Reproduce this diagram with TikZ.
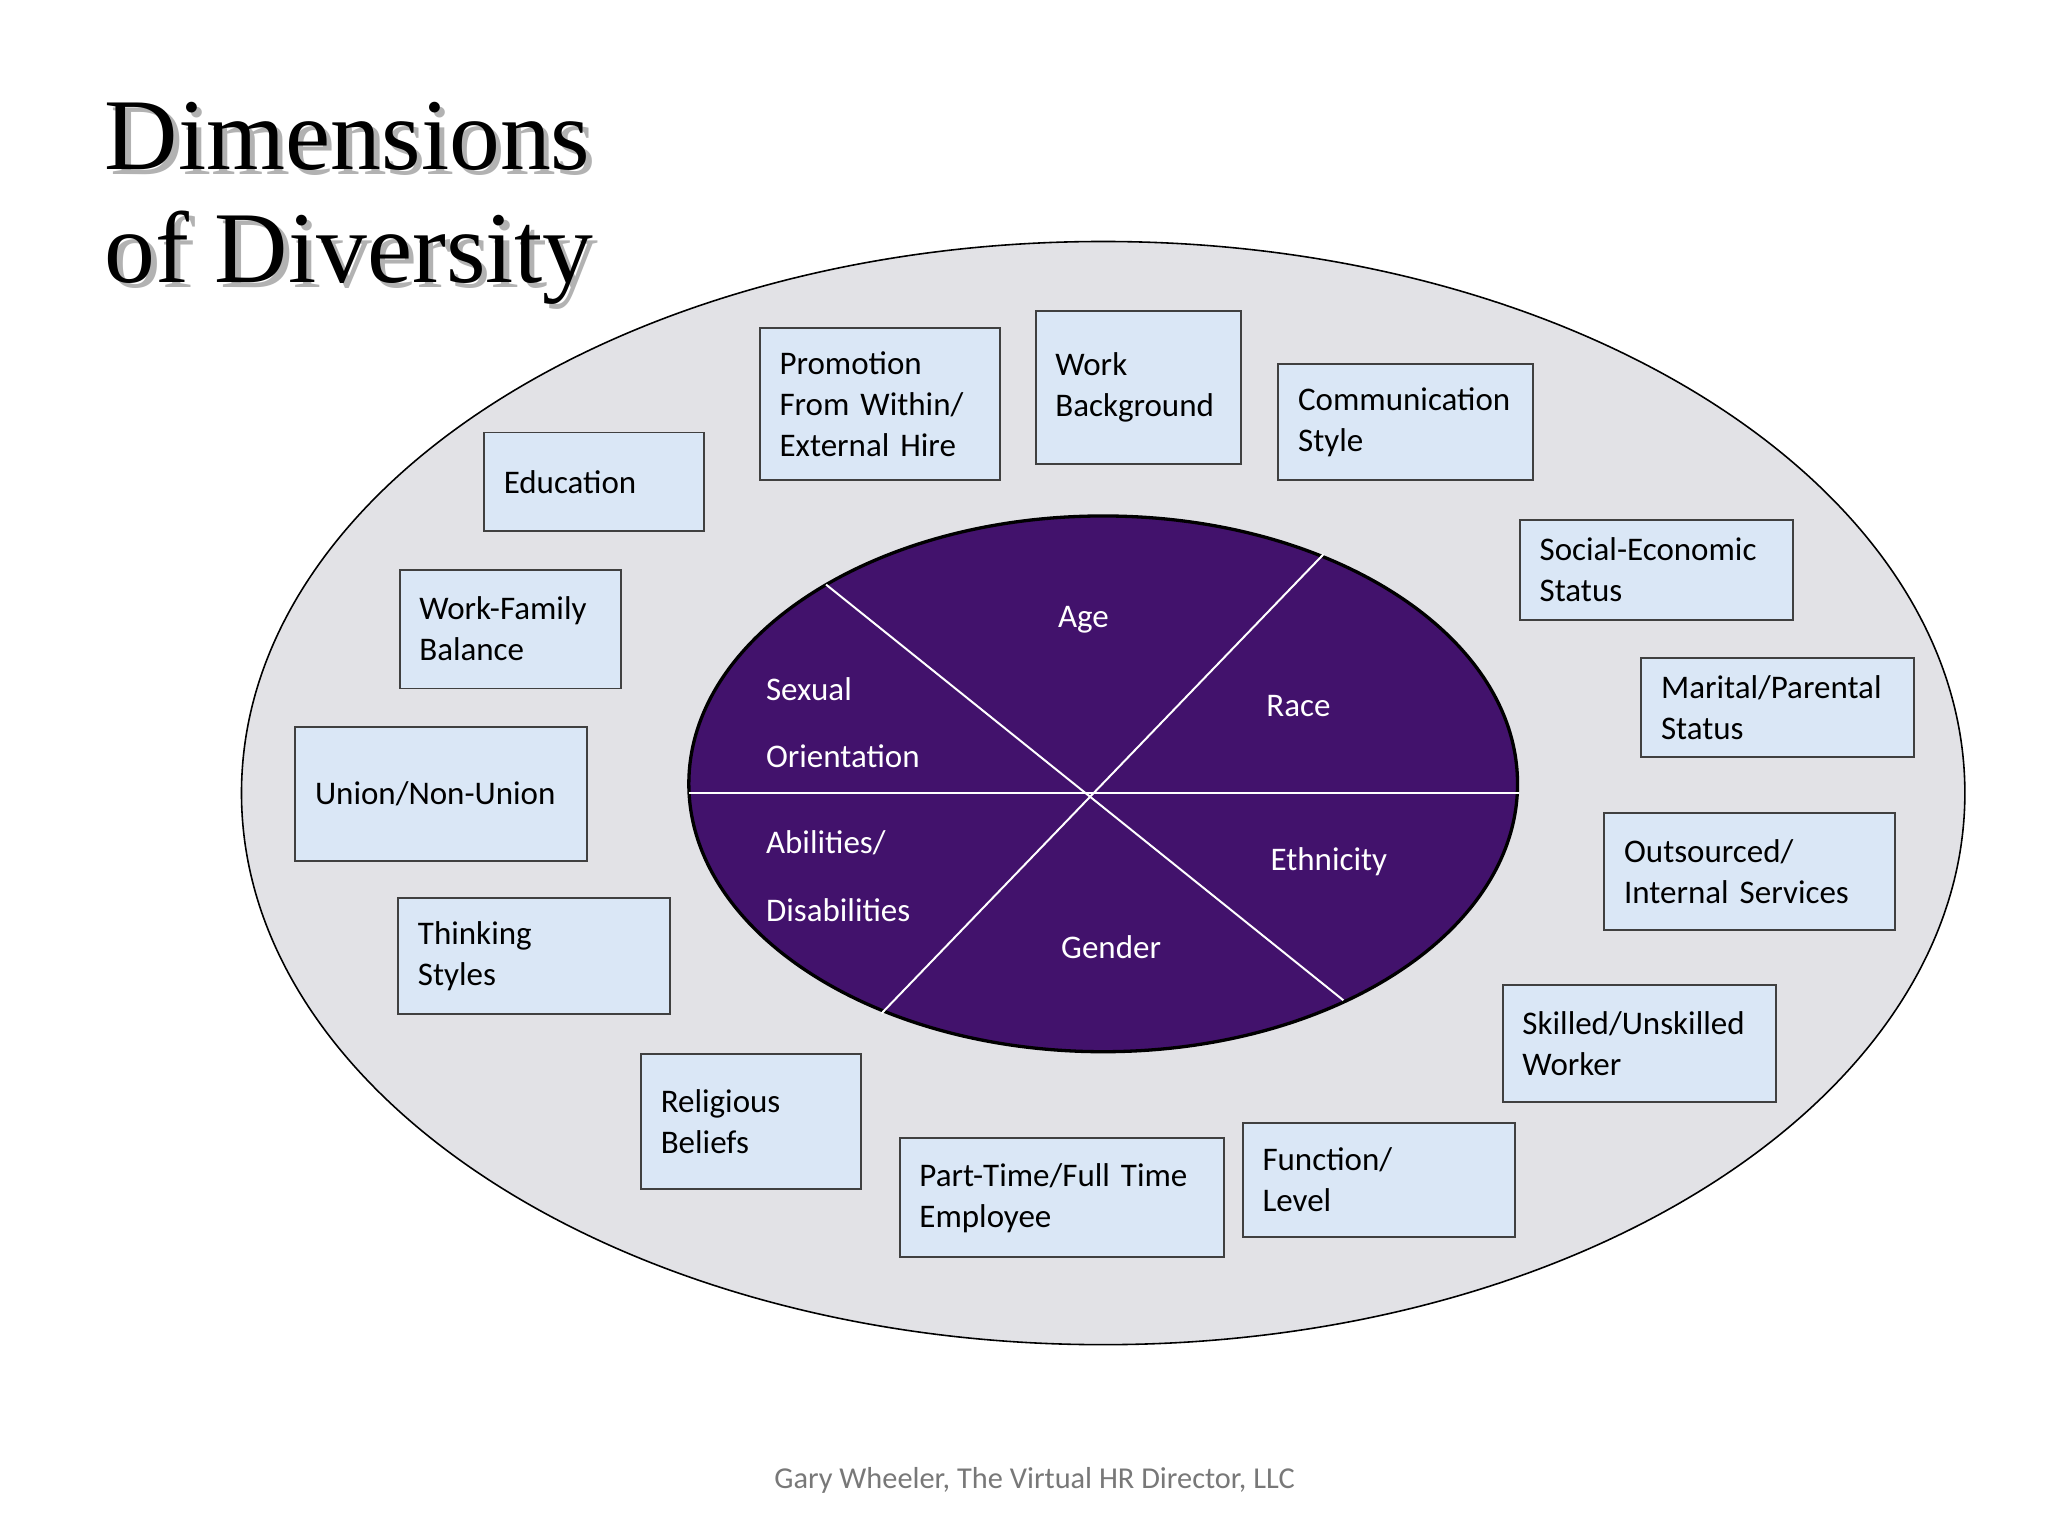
\documentclass[tikz,border=0pt]{standalone}
\usepackage{fontspec}
\setmainfont{Carlito}
\newfontfamily\titlefont{Liberation Serif}
\definecolor{marble}{RGB}{226,226,230}
\definecolor{boxfill}{RGB}{218,231,246}
\definecolor{inner}{RGB}{66,18,108}
\definecolor{footgray}{RGB}{120,120,120}
\begin{document}
\begin{tikzpicture}[x=1pt,y=-1pt,
  dbox/.style={draw=black!75,line width=1.5pt,fill=boxfill,anchor=north west,align=left,inner xsep=15pt,inner ysep=0pt,font=\fontsize{25}{31}\selectfont},
  inlabel/.style={text=white,font=\fontsize{25}{30}\selectfont},
  ttl/.style={anchor=west,font=\titlefont\fontsize{77}{80}\selectfont}]
\useasboundingbox (0,0) rectangle (1552,1164);
\fill[white] (0,0) rectangle (1552,1164);
\newcommand{\bx}[6]{\node[dbox,minimum width={#4-#2},minimum height={#5-#3},text width={#4-#2-30}] (#1) at (#2,#3) {#6};}
% title with shadow
\node[ttl,text=black!30] (s1) at (80,107) {Dimensions};
\node[ttl] (t1) at (76,103) {Dimensions};
\node[ttl,text=black!30] (s2) at (80,199) {of Diversity};
\node[ttl] (t2) at (76,195) {of Diversity};
% ellipses
\draw[line width=1.2pt,fill=marble] (836,601) ellipse [x radius=653,y radius=418];
\draw[line width=2.5pt,fill=inner] (836,594) ellipse [x radius=314,y radius=203];
\draw[white,line width=1.5pt] (522,601) -- (1151,601);
\draw[white,line width=1.5pt] (626,443) -- (1018,758);
\draw[white,line width=1.5pt] (1003,420) -- (668,768);
% inner labels
\node[inlabel] (age) at (821,470) {Age};
\node[inlabel] (race) at (984,535) {Race};
\node[inlabel,anchor=west] (sex1) at (577,522) {Sexual};
\node[inlabel,anchor=west] (sex2) at (577,573) {Orientation};
\node[inlabel,anchor=west] (ab1) at (577,639) {Abilities/};
\node[inlabel,anchor=west] (ab2) at (577,690) {Disabilities};
\node[inlabel] (eth) at (1007,653) {Ethnicity};
\node[inlabel] (gen) at (842,718) {Gender};
% boxes
\bx{promo}{575}{248}{757}{363}{Promotion\\From Within/\\External Hire}
\bx{workb}{784}{235}{940}{351}{Work\\Background}
\bx{comm}{968}{275}{1161}{363}{Communication\\Style}
\bx{edu}{366}{327}{533}{402}{Education}
\bx{wfb}{302}{431}{470}{521}{Work-Family\\Balance}
\bx{union}{223}{550}{444}{652}{Union/Non-Union}
\bx{think}{301}{680}{507}{768}{Thinking\\Styles}
\bx{rel}{485}{798}{652}{900}{Religious\\Beliefs}
\bx{part}{681}{862}{927}{952}{Part-Time/Full Time\\Employee}
\bx{func}{941}{850}{1147}{937}{Function/\\Level}
\bx{skill}{1138}{746}{1345}{834}{Skilled/Unskilled\\Worker}
\bx{outs}{1215}{615}{1435}{704}{Outsourced/\\Internal Services}
\bx{mar}{1243}{498}{1450}{573}{Marital/Parental\\Status}
\bx{soc}{1151}{393}{1358}{469}{Social-Economic\\Status}
% footer
\node[text=footgray,font=\fontsize{23}{26}\selectfont] (foot) at (784,1122) {Gary Wheeler, The Virtual HR Director, LLC};
\end{tikzpicture}
\end{document}
